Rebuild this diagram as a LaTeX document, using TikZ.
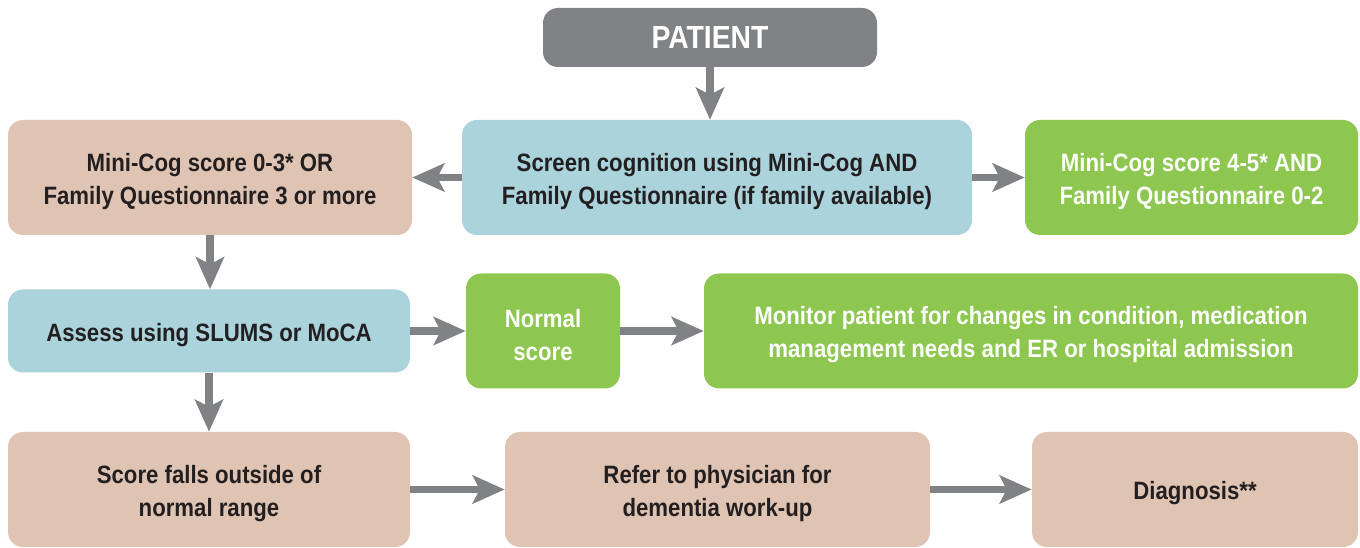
\documentclass[tikz,border=0pt]{standalone}
\usepackage{fontspec}
\setmainfont{Liberation Sans}[FakeStretch=0.885]
\usetikzlibrary{arrows.meta}
\definecolor{cgray}{HTML}{808285}
\definecolor{ctan}{HTML}{DFC4B4}
\definecolor{cblue}{HTML}{AAD3DB}
\definecolor{cgreen}{HTML}{8DC74F}
\definecolor{ctext}{HTML}{231F20}
\newcommand\topstrut{\rule{0pt}{19.2pt}}
\tikzset{
  box/.style={rounded corners=11.25pt, draw=none, align=center, inner sep=0pt,
    font=\fontsize{18.8}{24.75}\selectfont\bfseries, text=ctext},
  tanbox/.style={box, fill=ctan},
  bluebox/.style={box, fill=cblue},
  greenbox/.style={box, fill=cgreen, text=white},
  graybox/.style={box, fill=cgray, text=white, font=\fontsize{24}{28}\selectfont\bfseries},
  arr/.style={draw=cgray, line width=5.6pt,
    -{Stealth[length=24pt, width=21pt, inset=5.25pt]}}
}
\begin{document}
\begin{tikzpicture}[x=0.75pt, y=-0.75pt]
\useasboundingbox (0,0) rectangle (1360,548);
\node[graybox, minimum width=250.5pt, minimum height=44.25pt] (pat) at (710,37.5) {PATIENT};
\node[bluebox, minimum width=382.5pt, minimum height=86.25pt] (scr) at (717,177.5) {\topstrut Screen cognition using Mini-Cog AND\\Family Questionnaire (if family available)};
\node[tanbox, minimum width=303pt, minimum height=86.25pt] (mcl) at (210,177.5) {\topstrut Mini-Cog score 0-3* OR\\Family Questionnaire 3 or more};
\node[greenbox, minimum width=249.75pt, minimum height=86.25pt] (mcr) at (1191.5,177.5) {\topstrut Mini-Cog score 4-5* AND\\Family Questionnaire 0-2};
\node[bluebox, minimum width=301.5pt, minimum height=62.25pt] (ass) at (209,331) {\topstrut Assess using SLUMS or MoCA};
\node[greenbox, minimum width=115.5pt, minimum height=86.25pt] (nor) at (543,331) {\topstrut Normal\\score};
\node[greenbox, minimum width=490.5pt, minimum height=86.25pt] (mon) at (1031,331) {\topstrut Monitor patient for changes in condition, medication\\management needs and ER or hospital admission};
\node[tanbox, minimum width=301.5pt, minimum height=86.25pt] (sco) at (209,489.5) {\topstrut Score falls outside of\\normal range};
\node[tanbox, minimum width=318.75pt, minimum height=86.25pt] (ref) at (717.5,489.5) {\topstrut Refer to physician for\\dementia work-up};
\node[tanbox, minimum width=244.5pt, minimum height=86.25pt] (dia) at (1195,489.5) {\topstrut Diagnosis**};
\draw[arr] (pat.south) -- (pat.south|-scr.north);
\draw[arr] (scr.west) -- (mcl.east);
\draw[arr] (scr.east) -- (mcr.west);
\draw[arr] (mcl.south) -- (mcl.south|-ass.north);
\draw[arr] (ass.south) -- (ass.south|-sco.north);
\draw[arr] (ass.east) -- (nor.west);
\draw[arr] (nor.east) -- (mon.west);
\draw[arr] (sco.east) -- (ref.west);
\draw[arr] (ref.east) -- (dia.west);
\end{tikzpicture}
\end{document}
